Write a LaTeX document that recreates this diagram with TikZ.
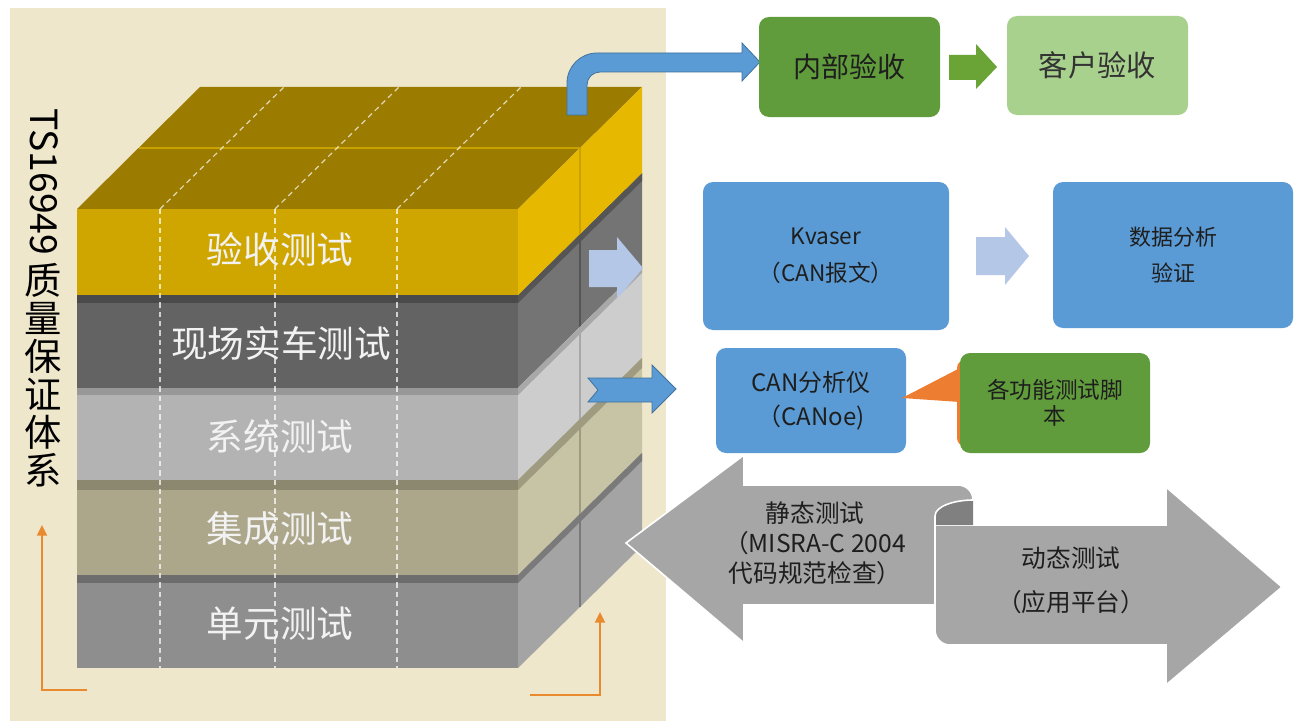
\documentclass[tikz,border=0pt]{standalone}
\usepackage{fontspec}
\newfontfamily\cjk{Noto Sans CJK SC}
\usetikzlibrary{arrows.meta}
\definecolor{beige}{HTML}{EFE7CB}
\definecolor{Ytop}{HTML}{9C7C00}
\definecolor{Yfront}{HTML}{CFA600}
\definecolor{Yside}{HTML}{E6B800}
\definecolor{Yline}{HTML}{C9A200}
\definecolor{L2s}{HTML}{4A4A4A}\definecolor{L2f}{HTML}{636363}\definecolor{L2d}{HTML}{747474}\definecolor{L2ds}{HTML}{555555}
\definecolor{L3s}{HTML}{989898}\definecolor{L3f}{HTML}{B3B3B3}\definecolor{L3d}{HTML}{CDCDCD}\definecolor{L3ds}{HTML}{A8A8A8}
\definecolor{L4s}{HTML}{8B886F}\definecolor{L4f}{HTML}{ACA78B}\definecolor{L4d}{HTML}{C6C4A5}\definecolor{L4ds}{HTML}{9E9B80}
\definecolor{L5s}{HTML}{6D6D6D}\definecolor{L5f}{HTML}{8E8E8E}\definecolor{L5d}{HTML}{A4A4A4}\definecolor{L5ds}{HTML}{7A7A7A}
\definecolor{gblue}{HTML}{5B9BD5}
\definecolor{gblueedge}{HTML}{41719C}
\definecolor{lblue}{HTML}{B4C7E7}
\definecolor{dgreen}{HTML}{609C3B}
\definecolor{agreen}{HTML}{6AA336}
\definecolor{lgreen}{HTML}{A9D18E}
\definecolor{orangeA}{HTML}{E98A2E}
\definecolor{orangeC}{HTML}{ED7D31}
\definecolor{garrow}{HTML}{A6A6A6}
\definecolor{gfold}{HTML}{808080}
\definecolor{txt}{HTML}{1E1E1E}
\begin{document}
\begin{tikzpicture}[x=0.75pt,y=-0.75pt,
  layertext/.style={font=\cjk\fontsize{27.5}{32}\selectfont, text=white!95!black, inner sep=0pt},
  box/.style={rounded corners=7.5pt, inner sep=0pt, align=center, text=txt},
  dashline/.style={white, opacity=0.7, line width=0.9pt, dash pattern=on 4pt off 3pt},
  orangeline/.style={orangeA, line width=1.6pt, -{Triangle[length=8pt,width=7.5pt]}},
  blockarrow/.style={line join=miter}
]
\useasboundingbox (0,0) rectangle (1295,724);
\fill[white] (0,0) rectangle (1295,724);
\fill[beige] (10,8) rectangle (666,721);

% ---- lower layers ----
\foreach \s/\f/\b/\cs/\cf/\cd/\cds in {295/303/388/L2s/L2f/L2d/L2ds, 388/395/480/L3s/L3f/L3d/L3ds, 480/490/575/L4s/L4f/L4d/L4ds, 575/583/668/L5s/L5f/L5d/L5ds}{
  \fill[\cs] (77,\s) rectangle (518,\f);
  \fill[\cf] (77,\f) rectangle (518,\b);
  \fill[\cd] (518,\s) -- (642,{\s-122}) -- (642,{\b-122}) -- (518,\b) -- cycle;
  \fill[\cds] (518,\s) -- (642,{\s-122}) -- (642,{\f-122}) -- (518,\f) -- cycle;
  \draw[\cds, line width=1.6pt] (580,{\s-61}) -- (580,{\b-61});
}
% ---- top yellow layer ----
\fill[Ytop] (77,209) -- (518,209) -- (642,87) -- (200,87) -- cycle;
\fill[Yfront] (77,209) rectangle (518,295);
\fill[Yside] (518,209) -- (642,87) -- (642,173) -- (518,295) -- cycle;
\draw[Yline, line width=1.8pt] (139,148) -- (580,148) -- (580,234);
% dashed lines
\foreach \x in {160,275,397}{
  \draw[dashline] (\x,209) -- (\x,668);
  \draw[dashline] (\x,209) -- ({\x+124},87);
}
% layer labels
\node[layertext] (l1) at (280,249) {验收测试};
\node[layertext] (l2) at (281,343) {现场实车测试};
\node[layertext] (l3) at (280,436) {系统测试};
\node[layertext] (l4) at (280,529) {集成测试};
\node[layertext] (l5) at (280,624) {单元测试};

% vertical title
\node[font=\cjk\fontsize{28}{32}\selectfont, rotate=-90, inner sep=0pt, text=black] (ts) at (44,182) {TS16949};
\node[font=\cjk\fontsize{28}{28.5}\selectfont, align=center, inner sep=0pt, anchor=north, text=black] (zl) at (43,263) {质\\量\\保\\证\\体\\系};

% orange arrows
\coordinate (oa1) at (87,690); \coordinate (oa2) at (42,690); \coordinate (oa3) at (42,525);
\draw[orangeline] (oa1) -- (oa2) -- (oa3);
\coordinate (ob1) at (530,695); \coordinate (ob2) at (600,695); \coordinate (ob3) at (600,612);
\draw[orangeline] (ob1) -- (ob2) -- (ob3);

% light blue arrow at stack
\fill[lblue] (589,250) -- (617,250) -- (617,237) -- (643,268) -- (617,299) -- (617,287) -- (589,287) -- cycle;
% notched blue arrow
\filldraw[fill=gblue, draw=gblueedge, line width=0.6pt, blockarrow] (588,378) -- (652,378) -- (652,365) -- (676,389) -- (652,413) -- (652,402) -- (588,402) -- (598,390) -- cycle;
% bent blue arrow
\filldraw[fill=gblue, draw=gblueedge, line width=0.6pt, blockarrow] (567,115) -- (567,83) .. controls (567,66.4) and (580.4,53) .. (597,53) -- (742,53) -- (742,43) -- (760,62) -- (742,81) -- (742,72) -- (600,72) .. controls (592.8,72) and (587,77.8) .. (587,85) -- (587,115) -- cycle;

% big gray arrows
\filldraw[fill=garrow, draw=white, line width=1.2pt, blockarrow] (626,543) -- (744,455) -- (744,485) -- (958,485) .. controls (966.3,485) and (973,491.7) .. (973,500) -- (973,605) -- (744,605) -- (744,643) -- cycle;
\filldraw[fill=garrow, draw=white, line width=1.2pt, blockarrow] (935,518) -- (935,630) .. controls (935,638.3) and (941.7,645) .. (950,645) -- (1166,645) -- (1166,685) -- (1282,587) -- (1166,487) -- (1166,525) -- (935,525) -- cycle;
\fill[gfold] (935,525) -- (935,516) .. controls (935,506) and (955,500) .. (973,500) -- (973,525) -- cycle;
\draw[white, line width=1.2pt] (935,560) -- (935,516) .. controls (935,506) and (955,500) .. (973,500);
\node[font=\cjk\fontsize{18.5}{22.5}\selectfont, align=center, text=txt, inner sep=0pt] (st) at (815,543) {静态测试\\（MISRA-C 2004\\代码规范检查）};
\node[font=\cjk\fontsize{18.5}{33}\selectfont, align=center, text=txt, inner sep=0pt] (dt) at (1071,580) {动态测试\\（应用平台）};

% top green boxes
\node[box, fill=dgreen, minimum width=135.75pt, minimum height=75pt, font=\cjk\fontsize{21}{25}\selectfont] (nb) at (849.5,67) {内部验收};
\node[box, fill=lgreen, minimum width=135.75pt, minimum height=74.25pt, font=\cjk\fontsize{22}{26}\selectfont, text=black!80] (kh) at (1097.5,65.5) {客户验收};
\fill[agreen] (949,55) -- (976,55) -- (976,44) -- (997,67) -- (976,89) -- (976,80) -- (949,80) -- cycle;

% Kvaser row
\node[box, fill=gblue, minimum width=184.5pt, minimum height=111pt, font=\cjk\fontsize{17}{27.75}\selectfont] (kv) at (826,256) {Kvaser\\（CAN报文）};
\node[box, fill=gblue, minimum width=180pt, minimum height=109.5pt, font=\cjk\fontsize{16.5}{27}\selectfont] (sj) at (1173,255) {数据分析\\验证};
\fill[lblue] (976,237) -- (1005,237) -- (1005,227) -- (1029,256) -- (1005,285) -- (1005,275) -- (976,275) -- cycle;

% CAN row
\node[box, fill=gblue, minimum width=142.5pt, minimum height=78.75pt, font=\cjk\fontsize{18}{25.5}\selectfont] (can) at (811,400.5) {CAN分析仪\\（CANoe)};
\fill[orangeC] (902,398) -- (960,368) -- (960,402) -- cycle;
\fill[orangeC, rounded corners=6pt] (957,360) rectangle (990,446);
\node[box, fill=dgreen, minimum width=142.5pt, minimum height=75pt, font=\cjk\fontsize{17}{19.5}\selectfont] (gn) at (1055,403) {各功能测试脚\\本};
\end{tikzpicture}
\end{document}
